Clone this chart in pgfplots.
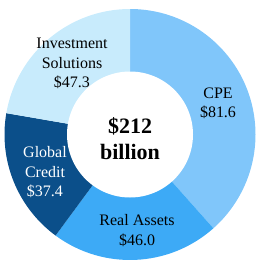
\documentclass[border=0pt]{standalone}
\usepackage{pgfplots}
\usepackage{pgfplotstable}
\pgfplotsset{compat=1.18}
\usepackage{fontspec}
\setmainfont{Liberation Serif}
\definecolor{cpe}{HTML}{80C6FA}
\definecolor{ra}{HTML}{3DAAF6}
\definecolor{gc}{HTML}{0B4F8A}
\definecolor{is}{HTML}{C8EBFC}
\pgfplotstableread{
label value
CPE 81.6
RealAssets 46.0
GlobalCredit 37.4
InvestmentSolutions 47.3
}\datatable
\pgfplotstablegetelem{0}{value}\of\datatable \let\vA\pgfplotsretval
\pgfplotstablegetelem{1}{value}\of\datatable \let\vB\pgfplotsretval
\pgfplotstablegetelem{2}{value}\of\datatable \let\vC\pgfplotsretval
\pgfplotstablegetelem{3}{value}\of\datatable \let\vD\pgfplotsretval
\pgfmathsetmacro{\tot}{\vA+\vB+\vC+\vD}
\pgfmathsetmacro{\aA}{90}
\pgfmathsetmacro{\aB}{\aA-360*(\vA/\tot)}
\pgfmathsetmacro{\aC}{\aB-360*(\vB/\tot)}
\pgfmathsetmacro{\aD}{\aC-360*(\vC/\tot)}
\pgfmathsetmacro{\aE}{\aD-360*(\vD/\tot)}
\newcommand{\seg}[3]{%
  \fill[#3] (axis cs:0,0) -- ([shift={(#1:125.5pt)}]axis cs:0,0) arc[start angle=#1, end angle=#2, radius=125.5pt] -- cycle;}
\begin{document}
\begin{tikzpicture}
\begin{axis}[
  at={(0,0)}, anchor=south west,
  x=1pt, y=1pt, scale only axis, hide axis,
  xmin=-130, xmax=128, ymin=-128.5, ymax=134.5,
  clip=false,
]
\seg{\aA}{\aB}{cpe}
\seg{\aB}{\aC}{ra}
\seg{\aC}{\aD}{gc}
\seg{\aD}{\aE}{is}
\fill[white] (axis cs:0,0) circle[radius=63pt];
\begin{scope}[every node/.style={align=center, font=\fontsize{16}{19.5}\selectfont}]
\node[black] at (axis cs:88,31) {CPE\\\$81.6};
\node[black] at (axis cs:7,-96) {Real Assets\\\$46.0};
\node[white] at (axis cs:-85,-38) {Global\\Credit\\\$37.4};
\node[black] at (axis cs:-58,71) {Investment\\Solutions\\\$47.3};
\end{scope}
\node[align=center, font=\fontsize{22}{26}\bfseries\selectfont] at (axis cs:0,-4) {\$212\\billion};
\end{axis}
\pgfresetboundingbox
\useasboundingbox (0,0) rectangle (258pt,263pt);
\end{tikzpicture}
\end{document}
